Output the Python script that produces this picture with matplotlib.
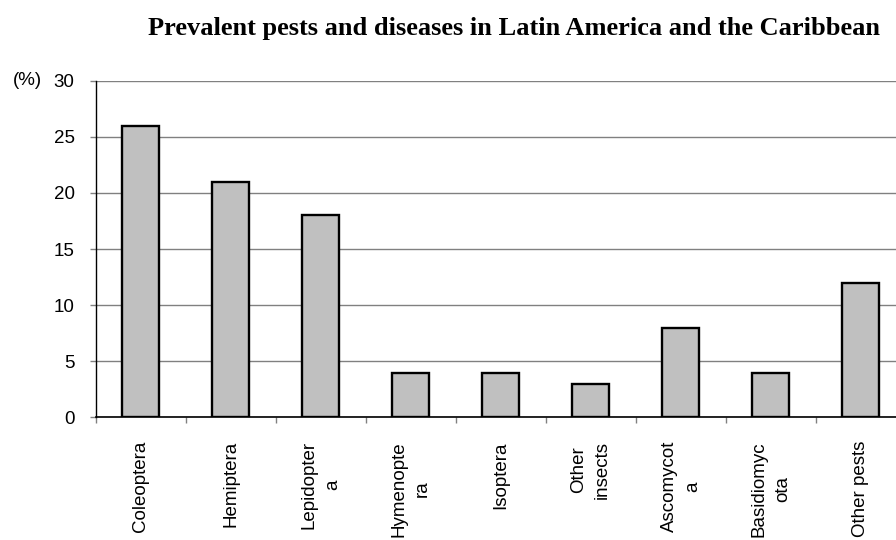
import matplotlib
matplotlib.use("Agg")
import matplotlib.pyplot as plt
import numpy as np

categories = ["Coleoptera", "Hemiptera", "Lepidopter\na", "Hymenopte\nra", "Isoptera",
              "Other\ninsects", "Ascomycot\na", "Basidiomyc\nota", "Other pests"]
values = [26, 21, 18, 4, 4, 3, 8, 4, 12]
y_ticks = [0, 5, 10, 15, 20, 25, 30]
title = "Prevalent pests and diseases in Latin America and the Caribbean"

plt.rcParams["font.family"] = ["Liberation Sans", "DejaVu Sans"]

fig = plt.figure(figsize=(8.96, 5.4), dpi=100)
# axis spans the 9 category slots; the right edge runs just past the figure border
ax = fig.add_axes([0.107, 0.227, 0.904, 0.6236])

x = np.arange(len(categories))
ax.bar(x, values, width=0.41, color="#c0c0c0", edgecolor="black", linewidth=1.7, zorder=3)

ax.set_xlim(-0.5, len(categories) - 0.5)
ax.set_ylim(0, 30)
ax.set_yticks(y_ticks)
ax.yaxis.grid(True, color="#808080", linewidth=1.0, zorder=0)
ax.tick_params(axis="y", length=4.3, width=1.0, color="#808080", pad=11, labelsize=13.5)

ax.set_xticks(x)
ax.set_xticklabels(categories, rotation=90, ha="center", va="top",
                   multialignment="center", fontsize=13.5, linespacing=1.5)
ax.tick_params(axis="x", which="major", length=0, pad=17)
ax.set_xticks(np.arange(-0.5, len(categories), 1.0), minor=True)
ax.tick_params(axis="x", which="minor", length=4, width=1.0, color="#808080")

for side in ("top", "right"):
    ax.spines[side].set_visible(False)
ax.spines["left"].set_linewidth(1.0)
ax.spines["bottom"].set_linewidth(1.2)

ax.text(-0.103, 1.0, "(%)", transform=ax.transAxes, ha="left", va="center", fontsize=13.5)

fig.text(0.574, 0.948, title, ha="center", va="center", fontsize=19,
         fontweight="bold", family=["Liberation Serif", "DejaVu Serif"])

fig.savefig("out.png", dpi=100)
